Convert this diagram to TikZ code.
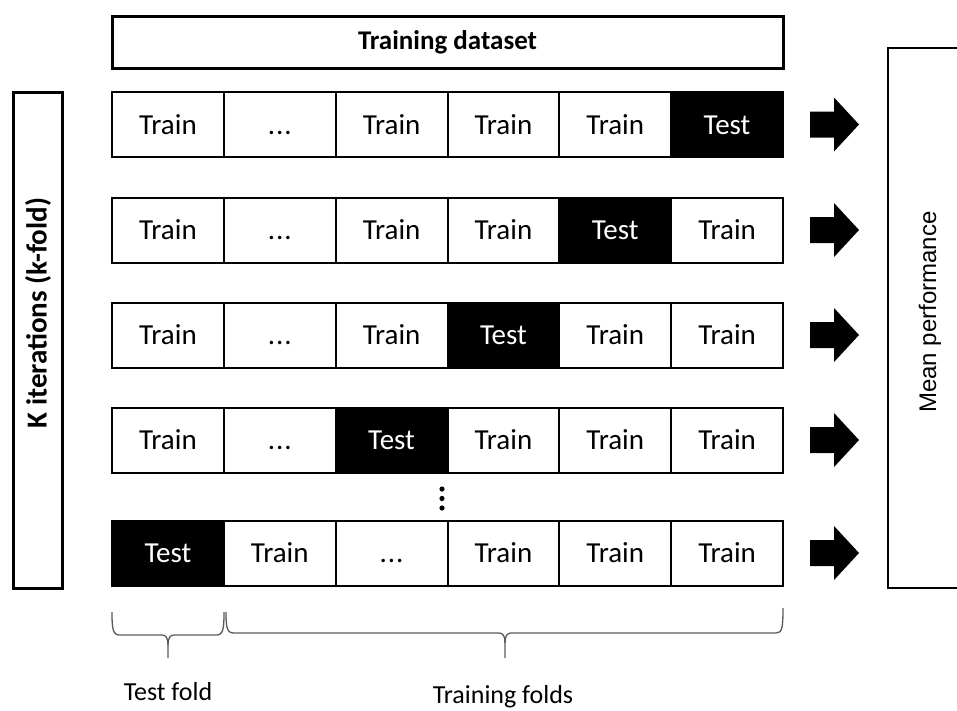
\documentclass[tikz,border=0pt]{standalone}
\usepackage{fontspec}
\setmainfont{Carlito}
\newfontfamily\arialfont{Liberation Sans}
\definecolor{bracegray}{HTML}{5A5A5A}
\newcommand{\threedots}{.\kern1pt.\kern1pt.}
\begin{document}
\begin{tikzpicture}[x=1pt,y=-1pt,
  cell/.style={draw=black,line width=2pt,minimum width=111.83pt,minimum height=65pt,
    inner sep=0pt,outer sep=0pt,text height=19pt,text depth=0pt,font=\fontsize{29}{34}\selectfont},
  traincell/.style={cell,fill=white},
  testcell/.style={cell,fill=black,text=white},
  bracepath/.style={draw=bracegray,line width=1.3pt},
  bottomlabel/.style={anchor=base,inner sep=0pt,font=\fontsize{26}{30}\selectfont},
  blockarrow/.pic={\fill[black] (-24,-13) -- (0,-13) -- (0,-27) -- (25,0) -- (0,27) -- (0,13) -- (-24,13) -- cycle;}
]
\useasboundingbox (0,0) rectangle (957,710);

% Training dataset
\node[draw=black,line width=3pt,minimum width=671pt,minimum height=52pt,inner sep=0pt,
  font=\bfseries\fontsize{27}{32}\selectfont] (dataset) at (447.5,42) {Training dataset};

% K iterations box
\node[draw=black,line width=3pt,minimum width=49pt,minimum height=496pt,inner sep=0pt] (kbox) at (37.5,340) {};
\node[rotate=90,inner sep=0pt,font=\bfseries\fontsize{29}{34}\selectfont] (klabel) at (38,313) {K iterations (k-fold)};

% Mean performance box
\node[draw=black,line width=2pt,minimum width=80pt,minimum height=540pt,inner sep=0pt] (mean) at (928,318) {};
\node[rotate=90,inner sep=0pt,font=\arialfont\fontsize{24}{28}\selectfont] (meanlabel) at (930,312) {Mean performance};

% Row 1
\node[traincell] (r1c1) at (167.92,124.5) {Train};
\node[traincell] (r1c2) at (279.75,124.5) {\threedots};
\node[traincell] (r1c3) at (391.58,124.5) {Train};
\node[traincell] (r1c4) at (503.42,124.5) {Train};
\node[traincell] (r1c5) at (615.25,124.5) {Train};
\node[testcell]  (r1c6) at (727.08,124.5) {Test};
% Row 2
\node[traincell] (r2c1) at (167.92,230) {Train};
\node[traincell] (r2c2) at (279.75,230) {\threedots};
\node[traincell] (r2c3) at (391.58,230) {Train};
\node[traincell] (r2c4) at (503.42,230) {Train};
\node[testcell]  (r2c5) at (615.25,230) {Test};
\node[traincell] (r2c6) at (727.08,230) {Train};
% Row 3
\node[traincell] (r3c1) at (167.92,335) {Train};
\node[traincell] (r3c2) at (279.75,335) {\threedots};
\node[traincell] (r3c3) at (391.58,335) {Train};
\node[testcell]  (r3c4) at (503.42,335) {Test};
\node[traincell] (r3c5) at (615.25,335) {Train};
\node[traincell] (r3c6) at (727.08,335) {Train};
% Row 4
\node[traincell] (r4c1) at (167.92,440) {Train};
\node[traincell] (r4c2) at (279.75,440) {\threedots};
\node[testcell]  (r4c3) at (391.58,440) {Test};
\node[traincell] (r4c4) at (503.42,440) {Train};
\node[traincell] (r4c5) at (615.25,440) {Train};
\node[traincell] (r4c6) at (727.08,440) {Train};
% Row 5
\node[testcell]  (r5c1) at (167.92,553) {Test};
\node[traincell] (r5c2) at (279.75,553) {Train};
\node[traincell] (r5c3) at (391.58,553) {\threedots};
\node[traincell] (r5c4) at (503.42,553) {Train};
\node[traincell] (r5c5) at (615.25,553) {Train};
\node[traincell] (r5c6) at (727.08,553) {Train};

% vertical dots
\fill[black] (442,489) circle (2.6) (442,498.5) circle (2.6) (442,508) circle (2.6);

% block arrows
\foreach \yy in {124.5,230,335,440,553} { \pic at (834,\yy) {blockarrow}; }

% braces
\draw[bracepath] (112,612) .. controls (112,630) and (113,635) .. (120,635) -- (162,635)
  .. controls (166,635) and (168,638) .. (168,645) -- (168,658);
\draw[bracepath] (168,645) .. controls (168,638) and (170,635) .. (174,635) -- (216,635)
  .. controls (223,635) and (224,630) .. (224,612);
\draw[bracepath] (226,612) .. controls (226,628) and (227,633) .. (234,633) -- (499,633)
  .. controls (503,633) and (505,636) .. (505,643) -- (505,658);
\draw[bracepath] (505,643) .. controls (505,636) and (507,633) .. (511,633) -- (776,633)
  .. controls (782,633) and (783,628) .. (783,608);

% bottom labels
\node[bottomlabel] (testfold) at (168,700) {Test fold};
\node[bottomlabel] (trainfolds) at (503,703) {Training folds};
\end{tikzpicture}
\end{document}
